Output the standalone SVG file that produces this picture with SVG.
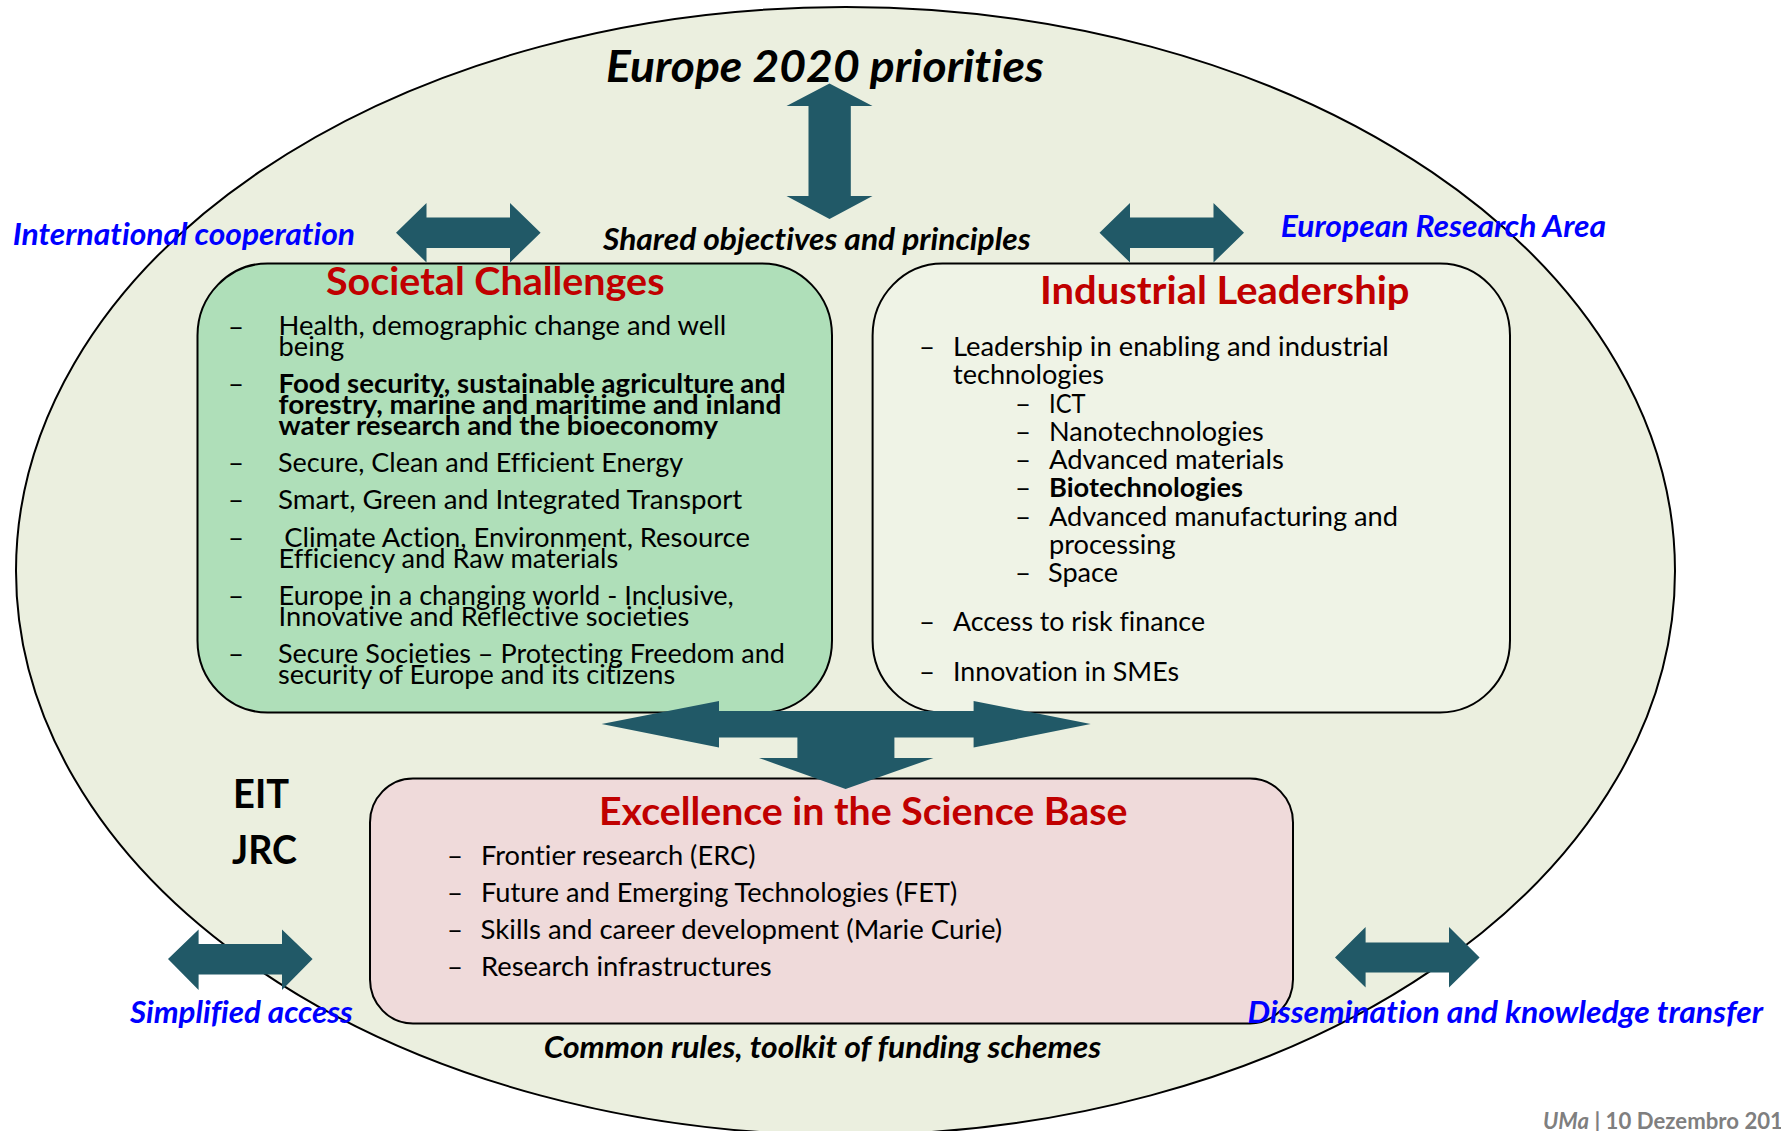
<svg xmlns="http://www.w3.org/2000/svg" width="1781" height="1131" viewBox="0 0 1781 1131">
<style>
text{font-family:"Lato","Carlito","Open Sans",sans-serif;fill:#000;font-variant-ligatures:none;transform:translate(-1px,0)}
.b{font-size:26.5px}
.bb{font-size:26.5px;font-weight:700}
.bl{font-size:30px;font-weight:700;font-style:italic;fill:#00f}
.k{font-size:30px;font-weight:700;font-style:italic}
.t{font-size:39px;font-weight:700;fill:#c00000}
.d{font-size:26.5px}
.e{font-size:40px;font-weight:700}
.a{fill:#215967;stroke:none}
.box{stroke:#000;stroke-width:2}
</style>
<rect width="1781" height="1131" fill="#fff"/>
<ellipse id="outer" cx="845.5" cy="571" rx="829.5" ry="564" fill="#ebefdf" stroke="#000" stroke-width="2"/>
<g id="societal"><rect class="box" x="197.5" y="263.5" width="634.5" height="449" rx="70" ry="72" fill="#afdfb9"/>
<text class="t" x="327" y="295" textLength="338.5" lengthAdjust="spacingAndGlyphs">Societal Challenges</text>
<text class="d" x="229" y="336" textLength="16" lengthAdjust="spacingAndGlyphs">–</text><text class="b" x="279.6" y="335" textLength="447.6" lengthAdjust="spacingAndGlyphs">Health, demographic change and well</text>
<text class="b" x="279.6" y="355.6" textLength="65.6" lengthAdjust="spacingAndGlyphs">being</text>
<text class="d" x="229" y="393" textLength="16" lengthAdjust="spacingAndGlyphs">–</text><text class="bb" x="279.6" y="392.7" textLength="507" lengthAdjust="spacingAndGlyphs">Food security, sustainable agriculture and</text>
<text class="bb" x="279.6" y="413.8" textLength="502.7" lengthAdjust="spacingAndGlyphs">forestry, marine and maritime and inland</text>
<text class="bb" x="279.6" y="435" textLength="439.4" lengthAdjust="spacingAndGlyphs">water research and the bioeconomy</text>
<text class="d" x="229" y="472" textLength="16" lengthAdjust="spacingAndGlyphs">–</text><text class="b" x="279" y="471.6" textLength="405.2" lengthAdjust="spacingAndGlyphs">Secure, Clean and Efficient Energy</text>
<text class="d" x="229" y="509" textLength="16" lengthAdjust="spacingAndGlyphs">–</text><text class="b" x="279" y="509.2" textLength="464.2" lengthAdjust="spacingAndGlyphs">Smart, Green and Integrated Transport</text>
<text class="d" x="229" y="547" textLength="16" lengthAdjust="spacingAndGlyphs">–</text><text class="b" x="285.3" y="546.5" textLength="465.6" lengthAdjust="spacingAndGlyphs">Climate Action, Environment, Resource</text>
<text class="b" x="279.6" y="568" textLength="339.6" lengthAdjust="spacingAndGlyphs">Efficiency and Raw materials</text>
<text class="d" x="229" y="605" textLength="16" lengthAdjust="spacingAndGlyphs">–</text><text class="b" x="279.6" y="604.7" textLength="455.2" lengthAdjust="spacingAndGlyphs">Europe in a changing world - Inclusive,</text>
<text class="b" x="279.6" y="625.8" textLength="410.6" lengthAdjust="spacingAndGlyphs">Innovative and Reflective societies</text>
<text class="d" x="229" y="663" textLength="16" lengthAdjust="spacingAndGlyphs">–</text><text class="b" x="279" y="663" textLength="507" lengthAdjust="spacingAndGlyphs">Secure Societies – Protecting Freedom and</text>
<text class="b" x="279" y="684" textLength="397.2" lengthAdjust="spacingAndGlyphs">security of Europe and its citizens</text>
</g>
<g id="industrial"><rect class="box" x="872.6" y="263.5" width="637.4" height="449" rx="70" ry="72" fill="#eff3e6"/>
<text class="t" x="1041" y="304" textLength="369.5" lengthAdjust="spacingAndGlyphs">Industrial Leadership</text>
<text class="d" x="920" y="356" textLength="16" lengthAdjust="spacingAndGlyphs">–</text><text class="b" x="954" y="356.4" textLength="435.8" lengthAdjust="spacingAndGlyphs">Leadership in enabling and industrial</text>
<text class="b" x="954" y="384.2" textLength="151" lengthAdjust="spacingAndGlyphs">technologies</text>
<text class="d" x="1016" y="413" textLength="16" lengthAdjust="spacingAndGlyphs">–</text><text class="b" x="1050" y="413.4" textLength="36.5" lengthAdjust="spacingAndGlyphs">ICT</text>
<text class="d" x="1016" y="441" textLength="16" lengthAdjust="spacingAndGlyphs">–</text><text class="b" x="1050" y="441.2" textLength="214.7" lengthAdjust="spacingAndGlyphs">Nanotechnologies</text>
<text class="d" x="1016" y="469" textLength="16" lengthAdjust="spacingAndGlyphs">–</text><text class="b" x="1050" y="469" textLength="234.8" lengthAdjust="spacingAndGlyphs">Advanced materials</text>
<text class="d" x="1016" y="497" textLength="16" lengthAdjust="spacingAndGlyphs">–</text><text class="bb" x="1050" y="497.4" textLength="194" lengthAdjust="spacingAndGlyphs">Biotechnologies</text>
<text class="d" x="1016" y="526" textLength="16" lengthAdjust="spacingAndGlyphs">–</text><text class="b" x="1050" y="526" textLength="349" lengthAdjust="spacingAndGlyphs">Advanced manufacturing and</text>
<text class="b" x="1050" y="554" textLength="126.6" lengthAdjust="spacingAndGlyphs">processing</text>
<text class="d" x="1016" y="582" textLength="16" lengthAdjust="spacingAndGlyphs">–</text><text class="b" x="1049" y="581.8" textLength="70" lengthAdjust="spacingAndGlyphs">Space</text>
<text class="d" x="920" y="631" textLength="16" lengthAdjust="spacingAndGlyphs">–</text><text class="b" x="954" y="631" textLength="252" lengthAdjust="spacingAndGlyphs">Access to risk finance</text>
<text class="d" x="920" y="681" textLength="16" lengthAdjust="spacingAndGlyphs">–</text><text class="b" x="954" y="681.2" textLength="226" lengthAdjust="spacingAndGlyphs">Innovation in SMEs</text>
</g>
<g id="excellence"><rect class="box" x="370" y="778.5" width="923" height="245" rx="43" ry="44" fill="#efdada"/>
<text class="t" x="600" y="824.6" textLength="528.4" lengthAdjust="spacingAndGlyphs">Excellence in the Science Base</text>
<text class="d" x="448" y="865" textLength="16" lengthAdjust="spacingAndGlyphs">–</text><text class="b" x="482" y="864.7" textLength="274.5" lengthAdjust="spacingAndGlyphs">Frontier research (ERC)</text>
<text class="d" x="448" y="902" textLength="16" lengthAdjust="spacingAndGlyphs">–</text><text class="b" x="482" y="902" textLength="476.2" lengthAdjust="spacingAndGlyphs">Future and Emerging Technologies (FET)</text>
<text class="d" x="448" y="939" textLength="16" lengthAdjust="spacingAndGlyphs">–</text><text class="b" x="481.6" y="939" textLength="521.6" lengthAdjust="spacingAndGlyphs">Skills and career development (Marie Curie)</text>
<text class="d" x="448" y="976" textLength="16" lengthAdjust="spacingAndGlyphs">–</text><text class="b" x="482" y="976" textLength="290.7" lengthAdjust="spacingAndGlyphs">Research infrastructures</text>
</g>
<g id="connectors">
<polygon class="a" points="829.5,83.6 872.5,106 850.8,106 850.8,196 872.5,196 829.5,219 786.5,196 808.5,196 808.5,106 786.5,106"/>
<polygon class="a" points="396,232.7 426.5,203 426.5,217.5 510,217.5 510,203 540.6,232.7 510,262.5 510,248 426.5,248 426.5,262.5"/>
<polygon class="a" points="1099.5,232.7 1130,203 1130,217.5 1213.5,217.5 1213.5,203 1244,232.7 1213.5,262.5 1213.5,248 1130,248 1130,262.5"/>
<polygon class="a" points="168,959 198.6,929.5 198.6,944 282,944 282,929.5 312.6,959 282,990 282,974.5 198.6,974.5 198.6,990"/>
<polygon class="a" points="1335,957.5 1365.6,927 1365.6,942.5 1449,942.5 1449,927 1479.6,957.5 1449,987.6 1449,972.4 1365.6,972.4 1365.6,987.6"/>
<polygon class="a" points="601.6,724 719,701 719,711 973.6,711 973.6,701 1090.7,724 973.6,747.6 973.6,737.5 894.4,737.5 894.4,758 933.4,758 845.6,789 759,758 797.4,758 797.4,737.5 719,737.5 719,747.6"/>
</g>
<g id="labels">
<text x="607" y="81.5" style="font-size:43px;font-weight:700;font-style:italic" textLength="437.8" lengthAdjust="spacingAndGlyphs">Europe 2020 priorities</text>
<text class="bl" x="13.8" y="244.6" textLength="342.2" lengthAdjust="spacingAndGlyphs">International cooperation</text>
<text class="k" x="604" y="249.8" textLength="427.6" lengthAdjust="spacingAndGlyphs">Shared objectives and principles</text>
<text class="bl" x="1281.8" y="236.6" textLength="325.4" lengthAdjust="spacingAndGlyphs">European Research Area</text>
<text class="e" x="234" y="808" textLength="56" lengthAdjust="spacingAndGlyphs">EIT</text>
<text class="e" x="233" y="863.5" textLength="65" lengthAdjust="spacingAndGlyphs">JRC</text>
<text class="bl" x="130.9" y="1022.8" textLength="222.8" lengthAdjust="spacingAndGlyphs">Simplified access</text>
<text class="bl" x="1248.5" y="1022.8" textLength="515.6" lengthAdjust="spacingAndGlyphs">Dissemination and knowledge transfer</text>
<text class="k" x="544.8" y="1058" textLength="557.4" lengthAdjust="spacingAndGlyphs">Common rules, toolkit of funding schemes</text>
<text x="1544" y="1129" style="font-size:22px;font-weight:700;fill:#7f7f7f" textLength="240" lengthAdjust="spacingAndGlyphs"><tspan font-style="italic">UMa</tspan> | 10 Dezembro 201</text>
</g>
</svg>
